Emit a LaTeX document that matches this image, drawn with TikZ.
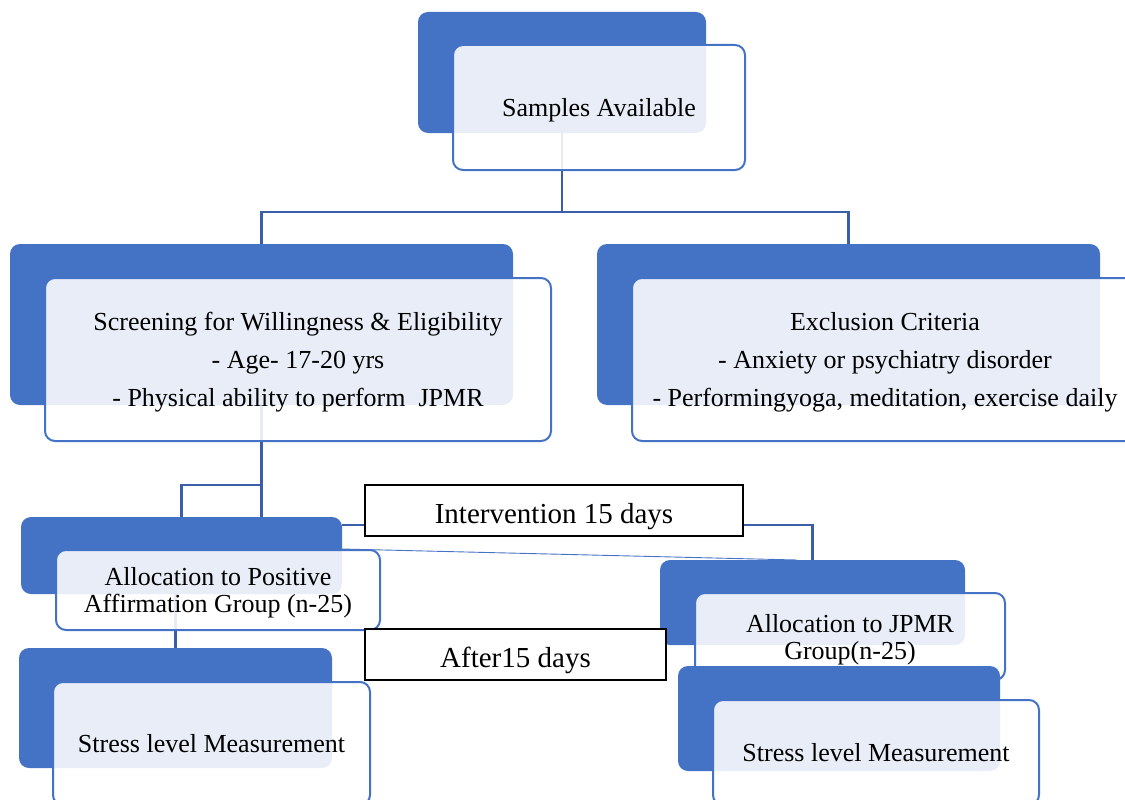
\documentclass[tikz,border=0pt]{standalone}
\usepackage{fontspec}
\setmainfont{Liberation Serif}
\usetikzlibrary{calc}
\pgfdeclarelayer{background}
\pgfsetlayers{background,main}
\definecolor{accent}{HTML}{4472C4}
\definecolor{linkc}{HTML}{3B5EA8}
\newcommand\tstrutx{\rule{0pt}{24pt}}
\begin{document}
\begin{tikzpicture}[x=1pt,y=-1pt,
  sz/.style 2 args={minimum width=#1pt, minimum height=#2pt},
  backbox/.style={fill=accent, rounded corners=10pt, inner sep=0pt},
  frontbox/.style={draw=accent, line width=2pt, fill=white, fill opacity=0.88,
    text opacity=1, rounded corners=10pt, inner sep=0pt, align=center,
    font=\fontsize{26}{38}\selectfont},
  oneline/.style={text height=18pt, text depth=1pt},
  tightlines/.style={font=\fontsize{26}{27}\selectfont},
  blackbox/.style={draw=black, line width=1.8pt, fill=white, inner sep=0pt,
    text height=26pt, text depth=0pt, font=\fontsize{29}{34}\selectfont},
  link/.style={draw=linkc, line width=2.2pt},
  thinlink/.style={draw=accent, line width=0.9pt}
]
\useasboundingbox (0,0) rectangle (1125,800);
\clip (0,0) rectangle (1125,800);

% Samples
\node[backbox, sz={288}{121}] (b1) at (562,72.5) {};
\node[frontbox, oneline, sz={292}{125}] (f1) at (599,107.5) {Samples Available};

% Screening
\node[backbox, sz={503}{161}] (b2) at (261.5,324.5) {};
\node[frontbox, sz={506}{163}] (f2) at (298,359.5)
  {\tstrutx Screening for Willingness \& Eligibility\\ - Age- 17-20 yrs\\ - Physical ability to perform~ JPMR};

% Exclusion
\node[backbox, sz={503}{161}] (b3) at (848.5,324.5) {};
\node[frontbox, sz={506}{163}] (f3) at (885,359.5)
  {\tstrutx Exclusion Criteria\\ - Anxiety or psychiatry disorder\\ - Performingyoga, meditation, exercise daily};

% Allocation positive affirmation
\node[backbox, sz={321}{77}] (b4) at (181.5,555.5) {};
\node[frontbox, tightlines, sz={324}{80}] (f4) at (218,590)
  {\tstrutx Allocation to Positive\\ Affirmation Group (n-25)};

% Intervention
\node[blackbox, sz={378}{51}] (iv) at (554,510.5) {Intervention 15 days};

% Allocation JPMR
\node[backbox, sz={305}{85}] (b5) at (812.5,602.5) {};
\node[frontbox, tightlines, sz={310}{87}] (f5) at (850,636.5)
  {\tstrutx Allocation to JPMR\\ Group(n-25)};

% After 15 days
\node[blackbox, sz={301}{51}] (af) at (515.5,654.5) {After15 days};

% Stress right
\node[backbox, sz={322}{105}] (b6) at (839,718.5) {};
\node[frontbox, oneline, sz={326}{105}] (f6) at (876,752.5) {Stress level Measurement};

% Stress left
\node[backbox, sz={313}{120}] (b7) at (175.5,708) {};
\node[frontbox, oneline, sz={317}{123}] (f7) at (211.5,743.5) {Stress level Measurement};

\coordinate (j1) at (562,212);
\coordinate (j2) at (261.5,485);
\coordinate (k1) at (342,525);
\coordinate (k2) at (797,560);

\begin{pgfonlayer}{background}
  \draw[link] (b1.south) -- (j1);
  \draw[link] (b2.north) |- (j1) -| (b3.north);
  \draw[link] (b2.south) -- (b2.south |- b4.north);
  \draw[link] (j2) -| (b4.north);
  \draw[link] (b7.north |- b4.south) -- (b7.north);
  \draw[link] (k1) -- (iv.west |- k1);
  \draw[link] (iv.east |- k1) -| (b5.north);
  \draw[thinlink] (b4.east |- f4.north) -- (k2);
\end{pgfonlayer}
\end{tikzpicture}
\end{document}
